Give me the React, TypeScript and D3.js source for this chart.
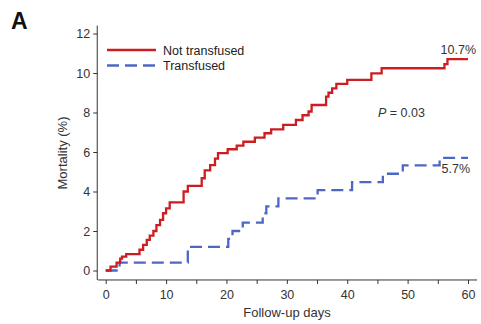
import React, { useEffect, useRef } from "react";
import * as d3 from "d3";

// Kaplan-Meier style cumulative mortality
const notTransfusedDays = [0, 0.8, 1.8, 2.4, 2.7, 3.4, 5.6, 6.2, 6.8, 7.3, 7.9, 8.4, 9, 9.5, 10, 10.6, 12.9, 13.6, 15.9, 16.4, 17.3, 18.1, 18.6, 20.2, 21.7, 22.8, 24.7, 26.3, 27.4, 29.4, 31.5, 32.6, 33.6, 34.1, 36.5, 36.9, 37.5, 38.2, 40, 44, 45.7, 56.1, 56.6, 60];
const notTransfusedPct = [0, 0.2, 0.4, 0.6, 0.7, 0.83, 1.05, 1.3, 1.55, 1.77, 2.0, 2.3, 2.56, 2.9, 3.15, 3.45, 4.0, 4.28, 4.67, 5.07, 5.34, 5.66, 5.94, 6.14, 6.32, 6.52, 6.73, 6.95, 7.15, 7.37, 7.62, 7.86, 8.05, 8.38, 8.8, 9.0, 9.22, 9.45, 9.65, 9.98, 10.24, 10.45, 10.7, 10.7];

const transfusedDays = [0, 2.3, 13.6, 20.3, 21, 22.7, 26, 26.6, 28.6, 35.1, 40.8, 45.9, 49.2, 55.3, 60];
const transfusedPct = [0, 0.4, 1.2, 1.6, 2.0, 2.42, 2.9, 3.25, 3.65, 4.07, 4.47, 4.9, 5.32, 5.7, 5.7];

const xTicks = d3.range(0, 61, 5);
const yTicks = [0, 2, 4, 6, 8, 10, 12];
const legendLabels = ["Not transfused", "Transfused"];

const RED = "#cc1d22";
const BLUE = "#4d68c4";
const FONT = "'Liberation Sans', Arial, sans-serif";

export default function App() {
  const ref = useRef<SVGSVGElement>(null);

  useEffect(() => {
    const svg = d3.select(ref.current);
    svg.selectAll("*").remove();

    const x = d3.scaleLinear().domain([0, 60]).range([105.7, 468]);
    const y = d3.scaleLinear().domain([0, 12]).range([270.5, 33.5]);

    // panel letter
    svg.append("text").attr("x", 11).attr("y", 29)
      .attr("font-family", FONT).attr("font-weight", "bold").attr("font-size", 23)
      .attr("fill", "#111").text("A");

    // x axis
    const xAxis = svg.append("g").attr("transform", `translate(0,${y(-0.48)})`)
      .call(d3.axisBottom(x).tickValues(xTicks).tickSize(4).tickSizeOuter(0)
        .tickFormat((d) => ((d as number) % 10 === 0 ? String(d) : "")));
    xAxis.select(".domain").remove();
    xAxis.selectAll("line").attr("stroke", "#333");
    xAxis.selectAll("text").attr("font-family", FONT).attr("font-size", 12.5)
      .attr("fill", "#333").attr("dy", "0.95em");
    svg.append("line").attr("x1", x(-1.3)).attr("x2", x(61.5))
      .attr("y1", y(-0.48)).attr("y2", y(-0.48)).attr("stroke", "#333");

    // y axis
    const yAxis = svg.append("g").attr("transform", `translate(${x(-1.4)},0)`)
      .call(d3.axisLeft(y).tickValues(yTicks).tickSize(4).tickSizeOuter(0));
    yAxis.select(".domain").remove();
    yAxis.selectAll("line").attr("stroke", "#333");
    yAxis.selectAll("text").attr("font-family", FONT).attr("font-size", 12.5)
      .attr("fill", "#333").attr("x", -7);
    svg.append("line").attr("x1", x(-1.4)).attr("x2", x(-1.4))
      .attr("y1", y(-0.48)).attr("y2", y(12.4)).attr("stroke", "#333");

    // axis titles
    svg.append("text").attr("x", 287).attr("y", 317).attr("text-anchor", "middle")
      .attr("font-family", FONT).attr("font-size", 13).attr("fill", "#333")
      .text("Follow-up days");
    svg.append("text").attr("transform", "translate(67,153) rotate(-90)")
      .attr("text-anchor", "middle").attr("font-family", FONT).attr("font-size", 13)
      .attr("fill", "#333").text("Mortality (%)");

    const line = d3.line<[number, number]>()
      .x((d) => x(d[0])).y((d) => y(d[1])).curve(d3.curveStepAfter);

    svg.append("path")
      .datum(transfusedDays.map((d, i) => [d, transfusedPct[i]] as [number, number]))
      .attr("d", line).attr("fill", "none").attr("stroke", BLUE)
      .attr("stroke-width", 2.3).attr("stroke-dasharray", "12,6");

    svg.append("path")
      .datum(notTransfusedDays.map((d, i) => [d, notTransfusedPct[i]] as [number, number]))
      .attr("d", line).attr("fill", "none").attr("stroke", RED)
      .attr("stroke-width", 2.3);

    // end labels
    const lastRed = notTransfusedPct[notTransfusedPct.length - 1];
    const lastBlue = transfusedPct[transfusedPct.length - 1];
    svg.append("text").attr("x", x(60) + 8).attr("y", y(lastRed) - 5)
      .attr("text-anchor", "end").attr("font-family", FONT).attr("font-size", 12.5)
      .attr("fill", "#333").text(`${lastRed}%`);
    svg.append("text").attr("x", x(60) + 2).attr("y", y(lastBlue) + 15)
      .attr("text-anchor", "end").attr("font-family", FONT).attr("font-size", 12.5)
      .attr("fill", "#333").text(`${lastBlue}%`);

    // p value
    const p = svg.append("text").attr("x", 378).attr("y", 117)
      .attr("font-family", FONT).attr("font-size", 12.5).attr("fill", "#333");
    p.append("tspan").attr("font-style", "italic").text("P");
    p.append("tspan").text(" = 0.03");

    // legend
    const legend = svg.append("g").attr("transform", "translate(107,50)");
    legendLabels.forEach((label, i) => {
      const g = legend.append("g").attr("transform", `translate(0,${i * 15.5})`);
      g.append("line").attr("x1", 0).attr("x2", 49).attr("stroke", i === 0 ? RED : BLUE)
        .attr("stroke-width", 2.3).attr("stroke-dasharray", i === 0 ? null : "12,6");
      g.append("text").attr("x", 56).attr("y", 4.5).attr("font-family", FONT)
        .attr("font-size", 12.5).attr("fill", "#222").text(label);
    });
  }, []);

  return (
    <svg ref={ref} width={481} height={324}
      style={{ position: "absolute", left: 0, top: 0, background: "#fff" }} />
  );
}
